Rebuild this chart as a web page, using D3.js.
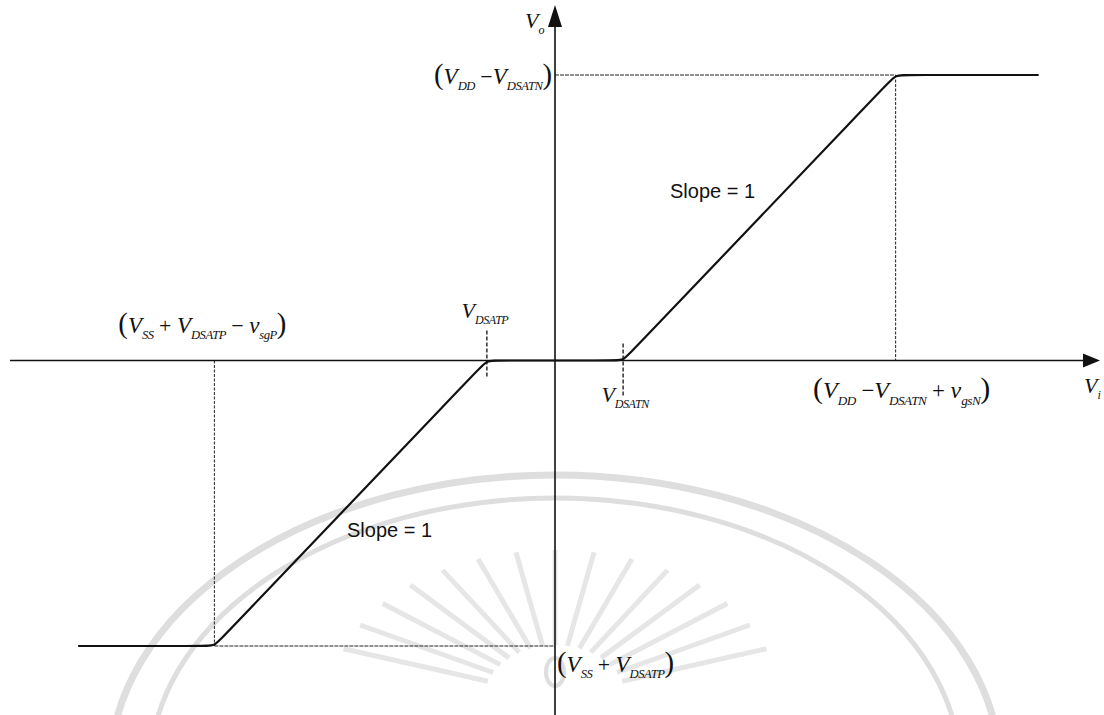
<!DOCTYPE html>
<html>
<head>
<meta charset="utf-8">
<script src="https://cdn.jsdelivr.net/npm/d3@7"></script>
<style>
  html, body { margin: 0; padding: 0; background: #fff; }
  svg { display: block; }
  .math { font-family: "Liberation Serif", "DejaVu Serif", serif; font-style: italic; fill: #111; }
  .note { font-family: "Liberation Sans", Arial, sans-serif; fill: #111; }
</style>
</head>
<body>
<svg id="chart" width="1104" height="715"></svg>
<script>
// Transfer characteristic of the output stage, in normalized units
// (V_DSAT = 1, swing limits at +/-4 on the output).
const vinBreaks  = [-7, -5, -1, 1, 5, 7.1];   // input voltage breakpoints
const voutBreaks = [-4, -4,  0, 0, 4, 4];     // output voltage at each breakpoint

const vDsatP = -1;          // V_DSATP marker on the input axis
const vDsatN = 1;           // V_DSATN marker on the input axis
const viHigh = 5;           // V_DD - V_DSATN + v_gsN
const viLow = -5;           // V_SS + V_DSATP - v_sgP
const voHigh = 4;           // V_DD - V_DSATN
const voLow = -4;           // V_SS + V_DSATP

const xDomain = [-8, 8];
const yDomain = [-4, 4];

const svg = d3.select("#chart");
const x = d3.scaleLinear().domain(xDomain).range([10, 1100]);
const y = d3.scaleLinear().domain(yDomain).range([646, 75]);

const ink = "#111";

// ---- faint seal in the background ----
const seal = svg.append("g").attr("fill", "none").attr("stroke", "#dedede");
const cx = x(0), cyS = 770;
seal.append("ellipse").attr("cx", cx).attr("cy", cyS).attr("rx", 445).attr("ry", 295).attr("stroke-width", 7);
seal.append("ellipse").attr("cx", cx).attr("cy", cyS).attr("rx", 405).attr("ry", 272).attr("stroke-width", 5);
const rays = d3.range(-160, -19, 10);
seal.selectAll("line.ray").data(rays).join("line")
  .attr("class", "ray")
  .attr("x1", d => cx + 55 * Math.cos(d * Math.PI / 180) * 1.3)
  .attr("y1", d => 700 + 55 * Math.sin(d * Math.PI / 180))
  .attr("x2", d => cx + 150 * Math.cos(d * Math.PI / 180) * 1.5)
  .attr("y2", d => 700 + 150 * Math.sin(d * Math.PI / 180))
  .attr("stroke-width", 5).attr("stroke", "#e6e6e6");
seal.append("ellipse").attr("cx", cx).attr("cy", 672).attr("rx", 9).attr("ry", 14).attr("stroke-width", 4);

// ---- guide lines ----
const guides = svg.append("g").attr("stroke", "#222").attr("stroke-width", 1).attr("fill", "none");
guides.append("line")
  .attr("x1", x(0)).attr("x2", x(viHigh)).attr("y1", y(voHigh)).attr("y2", y(voHigh))
  .attr("stroke-dasharray", "4,1");
guides.append("line")
  .attr("x1", x(viHigh)).attr("x2", x(viHigh)).attr("y1", y(voHigh)).attr("y2", y(0))
  .attr("stroke-dasharray", "3,1.5");
guides.append("line")
  .attr("x1", x(viLow)).attr("x2", x(0)).attr("y1", y(voLow)).attr("y2", y(voLow))
  .attr("stroke-dasharray", "4,1");
guides.append("line")
  .attr("x1", x(viLow)).attr("x2", x(viLow)).attr("y1", y(0)).attr("y2", y(voLow))
  .attr("stroke-dasharray", "3,1.5");
// short markers at the saturation voltages
guides.append("line")
  .attr("x1", x(vDsatP)).attr("x2", x(vDsatP)).attr("y1", y(0) - 30).attr("y2", y(0) + 18)
  .attr("stroke-dasharray", "4,2").attr("stroke-width", 1.4);
guides.append("line")
  .attr("x1", x(vDsatN)).attr("x2", x(vDsatN)).attr("y1", y(0) - 17).attr("y2", y(0) + 36)
  .attr("stroke-dasharray", "4,2").attr("stroke-width", 1.4);

// ---- axes ----
const axes = svg.append("g").attr("stroke", ink).attr("stroke-width", 1.6);
axes.append("line").attr("x1", x(xDomain[0])).attr("x2", x(xDomain[1]) - 12)
  .attr("y1", y(0)).attr("y2", y(0));
axes.append("line").attr("x1", x(0)).attr("x2", x(0))
  .attr("y1", 715).attr("y2", 22);
// arrow heads
svg.append("path").attr("fill", ink)
  .attr("d", `M${x(xDomain[1])},${y(0)} L${x(xDomain[1]) - 17},${y(0) - 7} L${x(xDomain[1]) - 17},${y(0) + 7} Z`);
svg.append("path").attr("fill", ink)
  .attr("d", `M${x(0)},5 L${x(0) - 7},27 L${x(0) + 7},27 Z`);

// ---- transfer curve with slightly softened knees ----
function softKnees(px, py, r) {
  const pts = [];
  for (let i = 0; i < px.length; i++) {
    const p = [x(px[i]), y(py[i])];
    if (i === 0 || i === px.length - 1) { pts.push(p); continue; }
    const a = [x(px[i - 1]), y(py[i - 1])], b = [x(px[i + 1]), y(py[i + 1])];
    const la = Math.hypot(p[0] - a[0], p[1] - a[1]);
    const lb = Math.hypot(b[0] - p[0], b[1] - p[1]);
    pts.push([p[0] + (a[0] - p[0]) * r / la, p[1] + (a[1] - p[1]) * r / la]);
    pts.push(p);
    pts.push([p[0] + (b[0] - p[0]) * r / lb, p[1] + (b[1] - p[1]) * r / lb]);
  }
  return pts;
}
const line = d3.line().curve(d3.curveBasis);
svg.append("path")
  .attr("d", line(softKnees(vinBreaks, voutBreaks, 10)))
  .attr("fill", "none").attr("stroke", ink).attr("stroke-width", 2.2)
  .attr("stroke-linejoin", "round");

// ---- labels ----
// parts: [text, kind]  kind: "m" main, "s" subscript, "p" paren, "o" operator
function mathLabel(px, py, parts, anchor, size) {
  const t = svg.append("text").attr("class", "math")
    .attr("x", px).attr("y", py).attr("text-anchor", anchor || "start");
  let shifted = false;
  parts.forEach(([s, k]) => {
    const span = t.append("tspan").text(s);
    if (k === "s") {
      span.attr("font-size", size * 0.55).attr("dy", shifted ? 0 : size * 0.28)
        .attr("letter-spacing", -0.5);
      shifted = true;
    } else {
      if (shifted) span.attr("dy", -size * 0.28);
      shifted = false;
      if (k === "p") span.attr("font-size", size * 1.25).attr("font-style", "normal");
      else if (k === "o") span.attr("font-size", size * 0.95).attr("font-style", "normal");
      else span.attr("font-size", size);
    }
  });
  return t;
}

mathLabel(x(0) - 30, 28, [["V", "m"], ["o", "s"]], "start", 22);

mathLabel(x(0) - 3, 84, [["(", "p"], ["V", "m"], ["DD", "s"], [" \u2212", "o"], ["V", "m"], ["DSATN", "s"], [")", "p"]], "end", 23);

mathLabel(x(vDsatP) - 2, 318, [["V", "m"], ["DSATP", "s"]], "middle", 22);

mathLabel(x(viLow) - 12, 333, [["(", "p"], ["V", "m"], ["SS", "s"], [" + ", "o"], ["V", "m"], ["DSATP", "s"], [" \u2212 ", "o"], ["v", "m"], ["sgP", "s"], [")", "p"]], "middle", 23);

mathLabel(x(vDsatN) + 2, 402, [["V", "m"], ["DSATN", "s"]], "middle", 22);

mathLabel(x(viHigh) + 6, 398, [["(", "p"], ["V", "m"], ["DD", "s"], [" \u2212", "o"], ["V", "m"], ["DSATN", "s"], [" + ", "o"], ["v", "m"], ["gsN", "s"], [")", "p"]], "middle", 24);

mathLabel(1084, 393, [["V", "m"], ["i", "s"]], "start", 22);

mathLabel(x(0) + 2, 672, [["(", "p"], ["V", "m"], ["SS", "s"], [" + ", "o"], ["V", "m"], ["DSATP", "s"], [")", "p"]], "start", 23);

svg.append("text").attr("class", "note").attr("x", 670).attr("y", 198)
  .attr("font-size", 20).text("Slope = 1");
svg.append("text").attr("class", "note").attr("x", 347).attr("y", 537)
  .attr("font-size", 20).text("Slope = 1");
</script>
</body>
</html>
